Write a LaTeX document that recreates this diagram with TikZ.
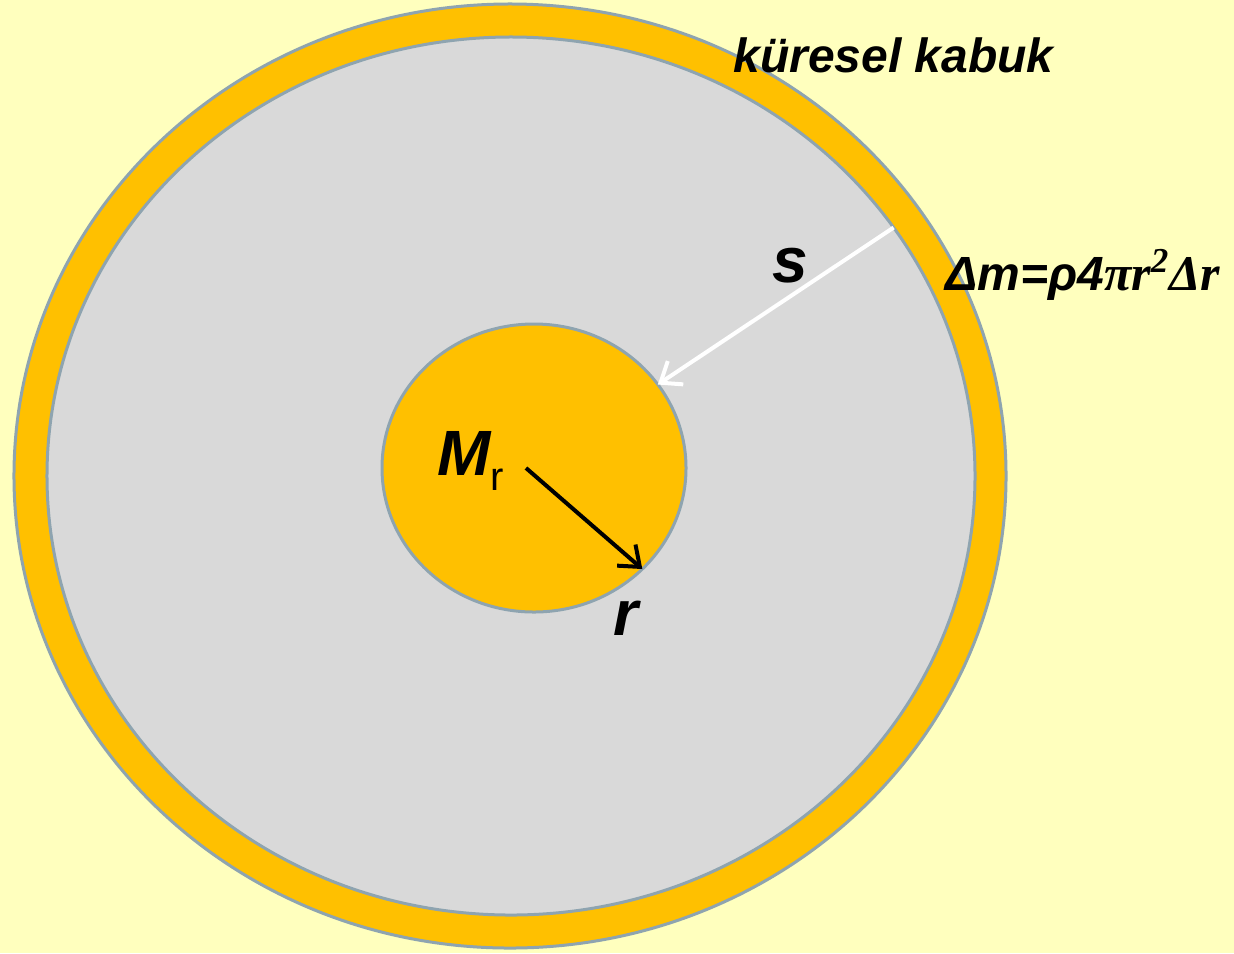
\documentclass[tikz,border=0pt]{standalone}
\usepackage{fontspec}
\setmainfont{Liberation Sans}
\newfontfamily\seriffont{Liberation Serif}
\usetikzlibrary{shapes.geometric,arrows.meta}

\definecolor{bgyellow}{RGB}{255,255,190}
\definecolor{massorange}{RGB}{255,192,0}
\definecolor{shellgrey}{RGB}{217,217,217}
\definecolor{rimblue}{RGB}{142,164,176}

\begin{document}
\begin{tikzpicture}[x=0.5bp,y=-0.5bp,
    >={Straight Barb[length=9bp,width=14bp]},
    body/.style={ellipse, draw=rimblue, line width=1.5bp, inner sep=0pt, outer sep=0pt},
    lbl/.style={inner sep=0pt, font=\fontsize{24bp}{28bp}\selectfont\bfseries\itshape},
    biglbl/.style={inner sep=0pt, font=\fontsize{32bp}{36bp}\selectfont\bfseries\itshape}]
    \fill[bgyellow] (0,0) rectangle (1234,953);
    \useasboundingbox (0,0) rectangle (1234,953);

    % star, shell and inner mass
    \node[body, fill=massorange, minimum width=496bp, minimum height=472bp] (star) at (510,476) {};
    \node[body, fill=shellgrey, minimum width=464bp, minimum height=439bp] (shell) at (511,476) {};
    \node[body, fill=massorange, minimum width=152bp, minimum height=144bp] (core) at (534,468) {};

    \coordinate (rstart) at (526,468);
    \draw[->, line width=2bp] (rstart) -- (core.-43);
    \draw[->, white, line width=2bp] (shell.33) -- (core.34);

    \node[lbl, anchor=base west] (shelllabel) at (733,72) {küresel kabuk};
    \node[lbl, anchor=base west] (dmlabel) at (945,290)
        {Δm=ρ4{\seriffont\fontsize{25bp}{28bp}\selectfont πr\textsuperscript{2}Δr}};
    \node[biglbl] (slabel) at (790,266) {s};
    \node[biglbl, anchor=base west] (mlabel) at (437,475)
        {M{\fontsize{20bp}{24bp}\selectfont\mdseries\upshape\raisebox{-7.5bp}{r}}};
    \node[biglbl, anchor=base] (rlabel) at (626,635) {r};
\end{tikzpicture}
\end{document}
